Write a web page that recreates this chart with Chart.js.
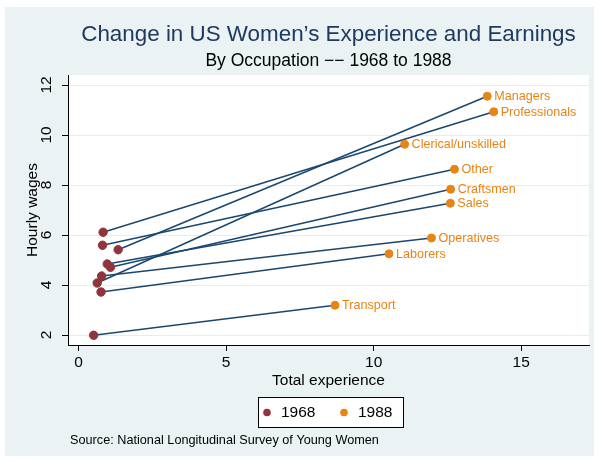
<!DOCTYPE html>
<html>
<head>
    <title>Change in US Women's Experience and Earnings</title>
    <style>
        body { margin: 0; background: #fff; }
        #wrap { position: relative; width: 599px; height: 462px; }
    </style>
    <script src="https://cdn.jsdelivr.net/npm/chart.js"></script>
</head>
<body>
    <div id="wrap">
        <canvas id="chart" width="599" height="462"></canvas>
    </div>

    <script>
        // values
        var occupations = ['Managers', 'Professionals', 'Clerical/unskilled', 'Other', 'Craftsmen',
                           'Sales', 'Operatives', 'Laborers', 'Transport'];
        var exp68  = [1.34, 0.83, 0.63, 0.81, 1.08, 0.97, 0.78, 0.76, 0.51];
        var wage68 = [5.41, 6.11, 4.08, 5.59, 4.71, 4.84, 4.36, 3.72, 1.99];
        var exp88  = [13.85, 14.07, 11.05, 12.74, 12.61, 12.60, 11.96, 10.52, 8.69];
        var wage88 = [11.55, 10.93, 9.63, 8.63, 7.83, 7.27, 5.88, 5.25, 3.19];
        var xTicks = [0, 5, 10, 15];
        var yTicks = [2, 4, 6, 8, 10, 12];
        var seriesNames = ['1968', '1988'];

        var FONT = '"Liberation Sans", Arial, Helvetica, sans-serif';
        var navy = 'rgb(26,71,111)';
        var maroon = 'rgb(144,53,59)';
        var orange = 'rgb(232,132,20)';
        var bgColor = 'rgb(234,242,243)';

        var datasets = [
            {
                label: seriesNames[0],
                data: exp68.map(function(x, i) { return {x: x, y: wage68[i]}; }),
                backgroundColor: maroon,
                borderColor: maroon,
                pointRadius: 4.2,
                showLine: false
            },
            {
                label: seriesNames[1],
                data: exp88.map(function(x, i) { return {x: x, y: wage88[i]}; }),
                backgroundColor: orange,
                borderColor: orange,
                pointRadius: 4,
                showLine: false
            }
        ];
        // one spike per occupation, 1968 -> 1988
        occupations.forEach(function(name, i) {
            datasets.push({
                label: name,
                data: [{x: exp68[i], y: wage68[i]}, {x: exp88[i], y: wage88[i]}],
                borderColor: navy,
                borderWidth: 1.5,
                pointRadius: 0,
                showLine: true
            });
        });

        var decorPlugin = {
            id: 'decor',
            beforeDraw: function(chart) {
                var ctx = chart.ctx, a = chart.chartArea;
                ctx.save();
                ctx.fillStyle = '#fff';
                ctx.fillRect(0, 0, chart.width, chart.height);
                ctx.fillStyle = bgColor;
                ctx.fillRect(5, 7, 589, 449);
                ctx.fillStyle = '#fff';
                ctx.fillRect(a.left, a.top, a.right - a.left, a.bottom - a.top);
                ctx.restore();
            },
            afterDraw: function(chart) {
                var ctx = chart.ctx, a = chart.chartArea;
                var xs = chart.scales.x, ys = chart.scales.y;
                var mid = (a.left + a.right) / 2;
                ctx.save();

                // titles
                ctx.textAlign = 'center';
                ctx.textBaseline = 'middle';
                ctx.fillStyle = '#1f3a60';
                ctx.font = '22.4px ' + FONT;
                ctx.fillText('Change in US Women\u2019s Experience and Earnings', mid, 35);
                ctx.fillStyle = '#000';
                ctx.font = '17.5px ' + FONT;
                ctx.fillText('By Occupation \u2212\u2212 1968 to 1988', mid, 61);

                // y tick labels, rotated like the original
                ctx.font = '15.5px ' + FONT;
                yTicks.forEach(function(v) {
                    ctx.save();
                    ctx.translate(47, ys.getPixelForValue(v));
                    ctx.rotate(-Math.PI / 2);
                    ctx.fillText(String(v), 0, 0);
                    ctx.restore();
                });

                // occupation labels next to the 1988 points
                ctx.textAlign = 'left';
                ctx.fillStyle = orange;
                ctx.font = '12.6px ' + FONT;
                occupations.forEach(function(name, i) {
                    ctx.fillText(name, xs.getPixelForValue(exp88[i]) + 7, ys.getPixelForValue(wage88[i]) + 0.5);
                });

                // legend box
                ctx.fillStyle = '#fff';
                ctx.fillRect(258, 397, 145, 30);
                ctx.strokeStyle = '#000';
                ctx.lineWidth = 1;
                ctx.strokeRect(258.5, 397.5, 145, 30);
                var legendX = [267, 344];
                ctx.font = '15.5px ' + FONT;
                [0, 1].forEach(function(k) {
                    ctx.fillStyle = datasets[k].backgroundColor;
                    ctx.beginPath();
                    ctx.arc(legendX[k], 412.5, 3.8, 0, Math.PI * 2);
                    ctx.fill();
                    ctx.fillStyle = '#000';
                    ctx.fillText(seriesNames[k], legendX[k] + 14, 413);
                });

                // note
                ctx.font = '12.7px ' + FONT;
                ctx.fillText('Source: National Longitudinal Survey of Young Women', 70, 440);
                ctx.restore();
            }
        };

        var chart = new Chart(document.getElementById('chart').getContext('2d'), {
            type: 'scatter',
            data: { datasets: datasets },
            options: {
                responsive: false,
                animation: false,
                layout: { padding: { top: 75, left: 0, right: 10, bottom: 72 } },
                plugins: {
                    legend: { display: false },
                    tooltip: { enabled: false },
                    title: { display: false }
                },
                scales: {
                    x: {
                        type: 'linear',
                        min: -0.36,
                        max: 17.3,
                        afterBuildTicks: function(s) { s.ticks = xTicks.map(function(v) { return {value: v}; }); },
                        afterFit: function(s) { s.height = 45; },
                        border: { color: '#000', width: 1 },
                        grid: { drawOnChartArea: false, tickLength: 6, tickColor: '#000' },
                        ticks: { color: '#000', padding: 2, maxRotation: 0, font: { family: FONT, size: 15.5 } },
                        title: {
                            display: true, text: 'Total experience', color: '#000',
                            padding: { top: 0, bottom: 0 }, font: { family: FONT, size: 15.5 }
                        }
                    },
                    y: {
                        type: 'linear',
                        min: 1.6,
                        max: 12.4,
                        afterBuildTicks: function(s) { s.ticks = yTicks.map(function(v) { return {value: v}; }); },
                        afterFit: function(s) { s.width = 68; },
                        border: { color: '#000', width: 1 },
                        grid: { color: 'rgb(228,237,239)', tickLength: 6, tickColor: '#000' },
                        ticks: { callback: function() { return ''; } },
                        title: {
                            display: true, text: 'Hourly wages', color: '#000',
                            padding: { top: 23, bottom: 0 }, font: { family: FONT, size: 15.5 }
                        }
                    }
                }
            },
            plugins: [decorPlugin]
        });
    </script>
</body>
</html>
